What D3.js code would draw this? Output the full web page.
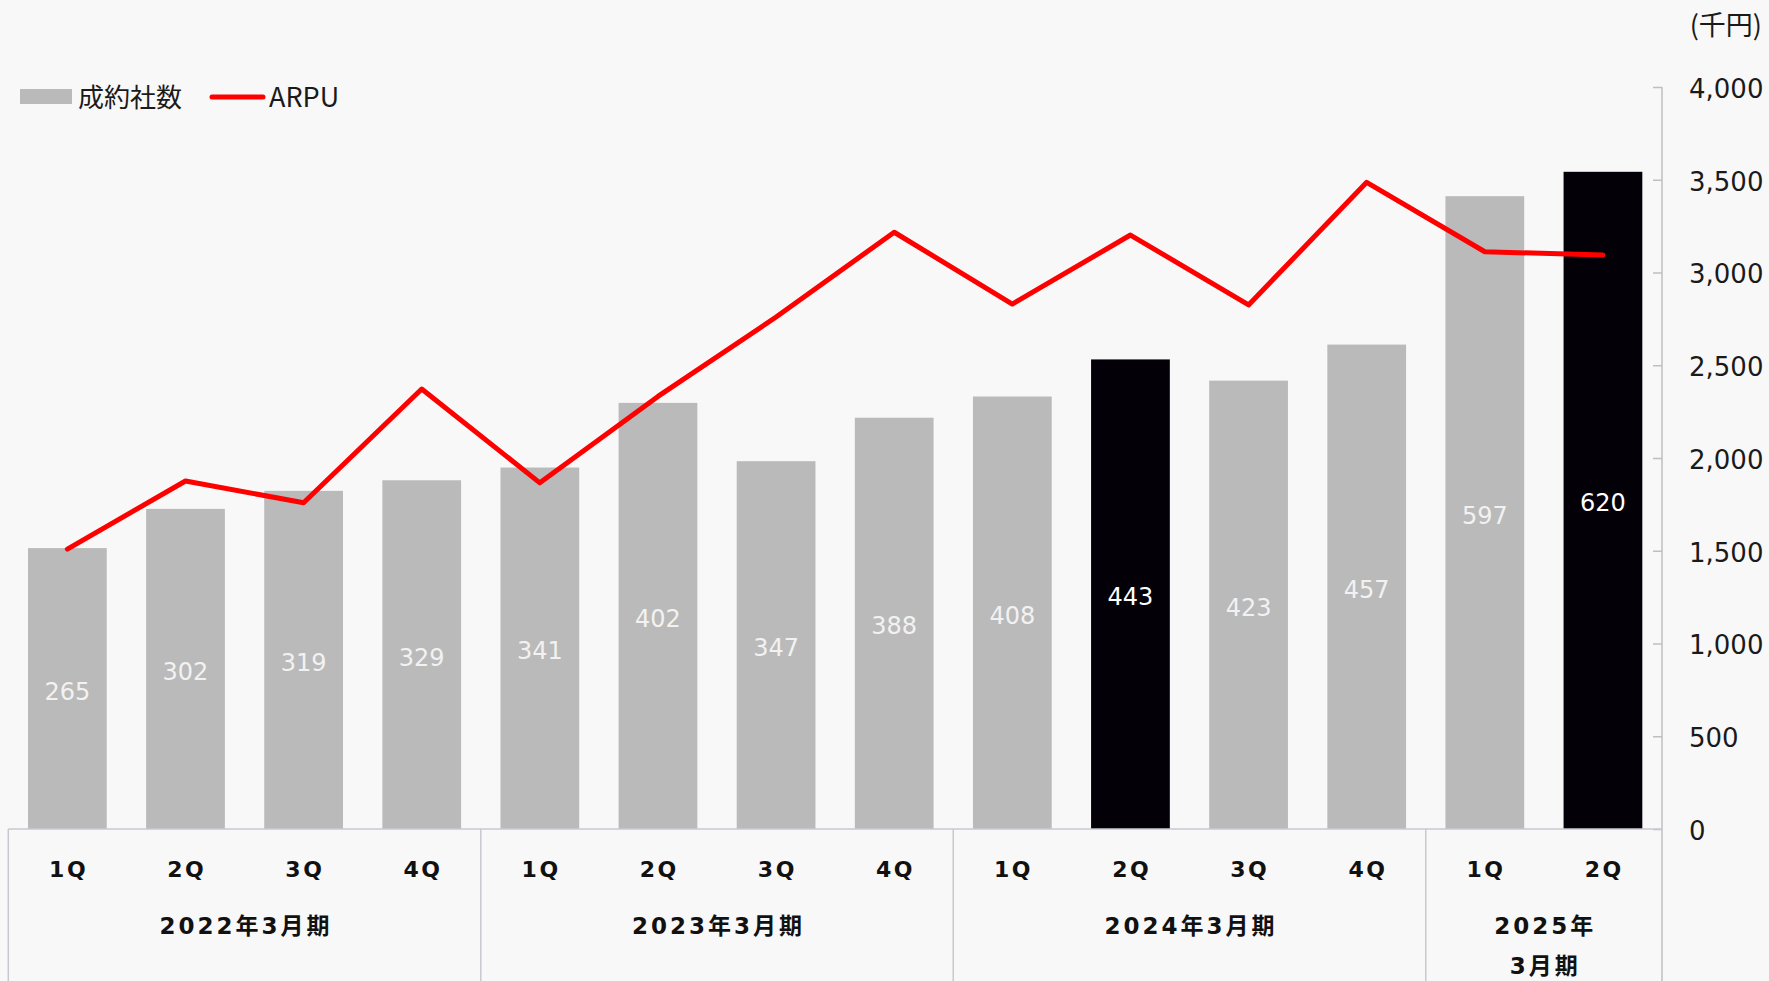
<!DOCTYPE html>
<html lang="ja">
<head>
<meta charset="utf-8">
<script src="https://cdn.jsdelivr.net/npm/d3@7"></script>
<style>
  html, body { margin: 0; padding: 0; background: #f8f8f8; }
  svg { display: block; }
</style>
</head>
<body>
<div id="chart"></div>
<script>
// Quarterly contracts (bars) and ARPU in thousand yen (line)
const fiscalYears = ["2022年3月期", "2023年3月期", "2024年3月期", "2025年3月期"];
const fiscalYearLines = [["2022年3月期"], ["2023年3月期"], ["2024年3月期"], ["2025年", "3月期"]];
const quartersPerYear = [4, 4, 4, 2];
const quarterNames = ["1Q", "2Q", "3Q", "4Q"];
const contracts = [265, 302, 319, 329, 341, 402, 347, 388, 408, 443, 423, 457, 597, 620];
const arpu = [1509, 1876, 1759, 2372, 1866, 2332, 2760, 3217, 2830, 3202, 2825, 3486, 3112, 3094];
const highlighted = ["2024年3月期 2Q", "2025年3月期 2Q"];
const arpuTicks = [0, 500, 1000, 1500, 2000, 2500, 3000, 3500, 4000];
const legendNames = ["成約社数", "ARPU"];
const unitLabel = "(千円)";

// category list built from the fiscal years and their quarters
const categories = [];
fiscalYears.forEach((fy, gi) => {
  for (let q = 0; q < quartersPerYear[gi]; q++) {
    categories.push({ key: fy + " " + quarterNames[q], fy, q: quarterNames[q], group: gi });
  }
});
const rows = categories.map((c, i) => ({ ...c, contracts: contracts[i], arpu: arpu[i] }));

const W = 1769, H = 981;
const plot = { left: 8.3, right: 1662, top: 87, bottom: 829 };

const svg = d3.select("#chart").append("svg")
  .attr("width", W).attr("height", H)
  .style("background", "#f8f8f8");

const x = d3.scaleBand()
  .domain(categories.map(c => c.key))
  .range([plot.left, plot.right])
  .paddingInner(1 / 3)
  .paddingOuter(1 / 6);

const yBar = d3.scaleLinear().domain([0, 700]).range([plot.bottom, plot.top]);
const yArpu = d3.scaleLinear().domain([0, 4000]).range([plot.bottom, plot.top]);

const numFont = "'DejaVu Sans', Verdana, sans-serif";
const jpFont = "'Noto Sans CJK JP', 'Noto Sans', sans-serif";

// bars
const isHi = d => highlighted.includes(d.key);
svg.append("g").selectAll("rect").data(rows).join("rect")
  .attr("x", d => x(d.key))
  .attr("width", x.bandwidth())
  .attr("y", d => yBar(d.contracts))
  .attr("height", d => yBar(0) - yBar(d.contracts))
  .attr("fill", d => isHi(d) ? "#030008" : "#bababa");

// value labels in the middle of each bar
svg.append("g").selectAll("text").data(rows).join("text")
  .attr("x", d => x(d.key) + x.bandwidth() / 2)
  .attr("y", d => (yBar(d.contracts) + yBar(0)) / 2 + 3)
  .attr("text-anchor", "middle")
  .attr("dominant-baseline", "central")
  .style("font-family", numFont)
  .style("font-size", "24px")
  .attr("fill", d => isHi(d) ? "#ffffff" : "#f2f2f2")
  .text(d => d.contracts);

// ARPU line
const line = d3.line()
  .x(d => x(d.key) + x.bandwidth() / 2)
  .y(d => yArpu(d.arpu));
svg.append("path").datum(rows)
  .attr("d", line)
  .attr("fill", "none")
  .attr("stroke", "#ff0000")
  .attr("stroke-width", 5)
  .attr("stroke-linejoin", "round")
  .attr("stroke-linecap", "round");

// right value axis
const axisG = svg.append("g")
  .attr("transform", `translate(${plot.right},0)`)
  .call(d3.axisRight(yArpu).tickValues(arpuTicks).tickFormat(d3.format(","))
    .tickSizeInner(-9).tickSizeOuter(0).tickPadding(27));
axisG.select(".domain").remove();
axisG.selectAll(".tick line").attr("stroke", "#bfbfbf").attr("stroke-width", 1.5);
axisG.selectAll(".tick text")
  .attr("dy", "0.4em")
  .style("font-family", numFont)
  .style("font-size", "26px")
  .attr("fill", "#1a1a1a");
svg.append("line")
  .attr("x1", plot.right).attr("x2", plot.right)
  .attr("y1", plot.top).attr("y2", H)
  .attr("stroke", "#bfbfbf").attr("stroke-width", 1.5);

svg.append("text")
  .attr("x", 1762).attr("y", 23)
  .attr("text-anchor", "end")
  .attr("dominant-baseline", "central")
  .style("font-family", jpFont)
  .style("font-size", "27px")
  .attr("fill", "#1a1a1a")
  .text(unitLabel);

// category axis: baseline, group dividers, quarter and year labels
const axisColor = "#c8c8d0";
svg.append("line")
  .attr("x1", plot.left).attr("x2", plot.right)
  .attr("y1", plot.bottom).attr("y2", plot.bottom)
  .attr("stroke", axisColor).attr("stroke-width", 1.5);

const slotStart = key => x(key) - x.step() * x.paddingInner() / 2;
const groups = fiscalYears.map((fy, gi) => {
  const keys = categories.filter(c => c.group === gi).map(c => c.key);
  const x0 = slotStart(keys[0]);
  const x1 = slotStart(keys[keys.length - 1]) + x.step();
  return { fy, lines: fiscalYearLines[gi], x0, x1 };
});
const dividerXs = groups.map(g => g.x0);
svg.append("g").selectAll("line").data(dividerXs).join("line")
  .attr("x1", d => d).attr("x2", d => d)
  .attr("y1", plot.bottom).attr("y2", H)
  .attr("stroke", axisColor).attr("stroke-width", 1.5);

svg.append("g").selectAll("text").data(rows).join("text")
  .attr("x", d => x(d.key) + x.bandwidth() / 2 + 1.25)
  .attr("y", 869)
  .attr("text-anchor", "middle")
  .attr("dominant-baseline", "central")
  .style("font-family", numFont)
  .style("font-weight", "bold")
  .style("font-size", "22px")
  .style("letter-spacing", "2.5px")
  .attr("fill", "#111")
  .text(d => d.q);

const yearG = svg.append("g").selectAll("text").data(groups).join("text")
  .attr("text-anchor", "middle")
  .style("font-family", `'DejaVu Sans', 'Noto Sans CJK JP', sans-serif`)
  .style("font-weight", "bold")
  .style("font-size", "23px")
  .style("letter-spacing", "3px")
  .attr("fill", "#111");
yearG.each(function (g) {
  const t = d3.select(this);
  g.lines.forEach((ln, i) => {
    t.append("tspan")
      .attr("x", (g.x0 + g.x1) / 2 + 1.5)
      .attr("y", 926 + i * 40)
      .attr("dominant-baseline", "central")
      .text(ln);
  });
});

// legend
const legend = svg.append("g");
legend.append("rect")
  .attr("x", 20).attr("y", 89).attr("width", 52).attr("height", 15)
  .attr("fill", "#bababa");
legend.append("text")
  .attr("x", 78).attr("y", 95)
  .attr("dominant-baseline", "central")
  .style("font-family", jpFont).style("font-size", "26px")
  .attr("fill", "#1a1a1a")
  .text(legendNames[0]);
legend.append("line")
  .attr("x1", 212).attr("x2", 263).attr("y1", 97).attr("y2", 97)
  .attr("stroke", "#ff0000").attr("stroke-width", 5).attr("stroke-linecap", "round");
legend.append("text")
  .attr("x", 269).attr("y", 95)
  .attr("dominant-baseline", "central")
  .style("font-family", jpFont).style("font-size", "27px")
  .attr("fill", "#1a1a1a")
  .text(legendNames[1]);
</script>
</body>
</html>
